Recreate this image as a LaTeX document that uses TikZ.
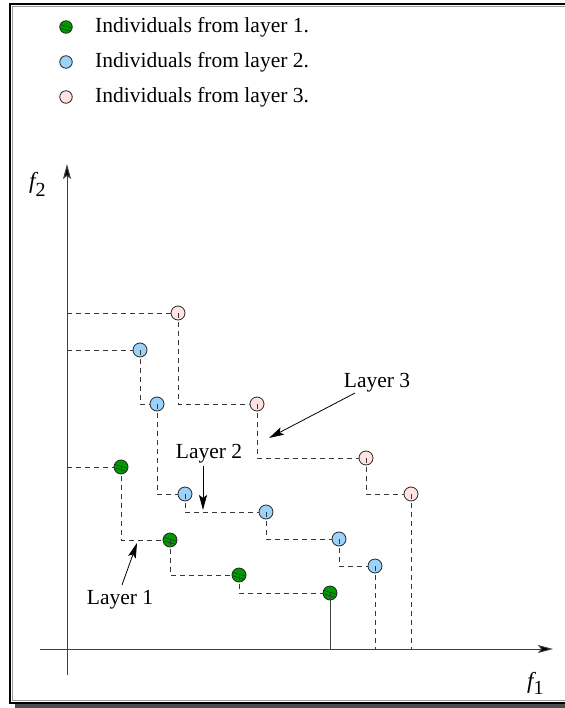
\documentclass[tikz,border=0pt]{standalone}
\usepackage{fontspec}
\setmainfont{Liberation Serif}
\usetikzlibrary{arrows.meta}
\definecolor{gfill}{RGB}{0,155,0}
\definecolor{ghatch}{RGB}{0,80,0}
\definecolor{bfill}{RGB}{155,210,250}
\definecolor{pfill}{RGB}{255,226,226}
\definecolor{dashc}{RGB}{55,55,55}
\begin{document}
\begin{tikzpicture}[x=1pt,y=-1pt,
  pt/.style={circle, draw=black!85, line width=0.8pt, minimum size=14pt, inner sep=0pt},
  gpt/.style={pt, fill=gfill, path picture={
      \draw[ghatch, line width=0.6pt] ([shift={(-6pt,2.5pt)}]path picture bounding box.center) -- ++(12pt,-3.5pt);
      \draw[ghatch, line width=0.6pt] ([shift={(-6pt,-1pt)}]path picture bounding box.center) -- ++(12pt,-3.5pt);}},
  bpt/.style={pt, fill=bfill},
  ppt/.style={pt, fill=pfill},
  dl/.style={draw=dashc, line width=0.9pt, dash pattern=on 5pt off 4pt},
  axisline/.style={draw=black!75, line width=1pt, -{Stealth[length=15pt,width=8pt,inset=3pt,fill=black]}},
  labarrow/.style={draw=black, line width=0.8pt, -{Stealth[length=15pt,width=8pt,inset=3pt]}},
  txt/.style={font=\fontsize{21.5}{25}\selectfont, inner sep=0pt}]
\useasboundingbox (0,0) rectangle (564,708);
% frame with shadow
\fill[black!70] (15,700) rectangle (580,708);
\draw[line width=2pt, fill=white] (10,4) rectangle (575,703);
\draw[black!40, line width=0.8pt] (12.5,6.5) rectangle (572.5,700.5);

% legend
\node[gpt, minimum size=12.5pt] (lg1) at (66,27) {};
\node[bpt, minimum size=12.5pt] (lg2) at (66,62) {};
\node[ppt, minimum size=12.5pt] (lg3) at (66,97) {};
\node[txt, anchor=base west] (lt1) at (95,33) {Individuals from layer 1.};
\node[txt, anchor=base west] (lt2) at (95,68) {Individuals from layer 2.};
\node[txt, anchor=base west] (lt3) at (95,103) {Individuals from layer 3.};

% axes
\coordinate (xs) at (40,649);
\coordinate (xe) at (553,649);
\coordinate (ys) at (67,675);
\coordinate (ye) at (67,164);
\draw[axisline] (xs) -- (xe);
\draw[axisline] (ys) -- (ye);
\node[txt, font=\fontsize{23}{25}\selectfont\itshape, anchor=base west] (f2) at (29,189) {f\raisebox{-8pt}{\upshape\fontsize{20}{20}\selectfont 2}};
\node[txt, font=\fontsize{23}{25}\selectfont\itshape, anchor=base west] (f1) at (527,688) {f\raisebox{-6pt}{\upshape\fontsize{20}{20}\selectfont 1}};

% points
\node[gpt] (g1) at (121,467) {};
\node[gpt] (g2) at (170,540) {};
\node[gpt] (g3) at (239,575) {};
\node[gpt] (g4) at (330,593) {};
\node[bpt] (b1) at (140,350) {};
\node[bpt] (b2) at (157,404) {};
\node[bpt] (b3) at (185,494) {};
\node[bpt] (b4) at (266,512) {};
\node[bpt] (b5) at (339,539) {};
\node[bpt] (b6) at (375,566) {};
\node[ppt] (p1) at (178,313) {};
\node[ppt] (p2) at (257,404) {};
\node[ppt] (p3) at (366,458) {};
\node[ppt] (p4) at (411,494) {};

% layer 3 staircase
\draw[dl] (ys |- p1) -- (p1.west);
\draw[dl] (p1.center) |- (p2.west);
\draw[dl] (p2.center) |- (p3.west);
\draw[dl] (p3.center) |- (p4.west);
\draw[dl] (p4.center) -- (p4 |- xs);
% layer 2 staircase
\draw[dl] (ys |- b1) -- (b1.west);
\draw[dl] (b1.center) |- (b2.west);
\draw[dl] (b2.center) |- (b3.west);
\draw[dl] (b3.center) |- (b4.west);
\draw[dl] (b4.center) |- (b5.west);
\draw[dl] (b5.center) |- (b6.west);
\draw[dl] (b6.center) -- (b6 |- xs);
% layer 1 staircase
\draw[dl] (ys |- g1) -- (g1.west);
\draw[dl] (g1.center) |- (g2.west);
\draw[dl] (g2.center) |- (g3.west);
\draw[dl] (g3.center) |- (g4.west);
\draw[black!75, line width=1pt] (g4.center) -- (g4 |- xs);

% layer labels
\node[txt, anchor=base] (l3) at (377,387) {Layer 3};
\coordinate (l3s) at (355,393);
\coordinate (l3e) at (269,438);
\draw[labarrow] (l3s) -- (l3e);
\node[txt, anchor=base] (l2) at (209,458) {Layer 2};
\coordinate (l2s) at (203,466);
\coordinate (l2e) at (203,510);
\draw[labarrow] (l2s) -- (l2e);
\node[txt, anchor=base] (l1) at (120,604) {Layer 1};
\coordinate (l1s) at (122,585);
\coordinate (l1e) at (137,543);
\draw[labarrow] (l1s) -- (l1e);
\end{tikzpicture}
\end{document}
